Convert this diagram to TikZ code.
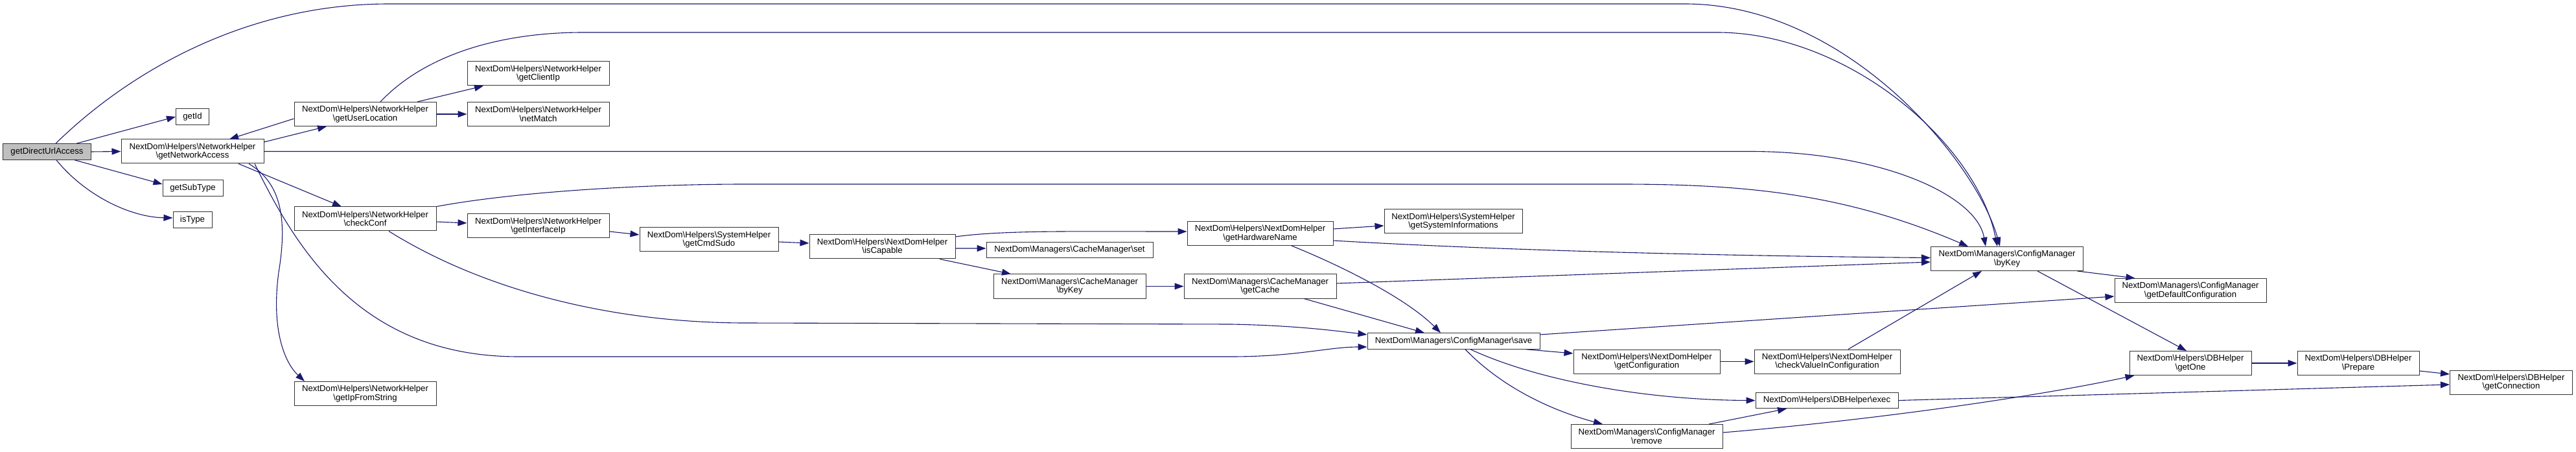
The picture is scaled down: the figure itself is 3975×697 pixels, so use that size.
\documentclass[tikz,border=0pt]{standalone}
\usepackage{fontspec}
\setmainfont{Liberation Sans}
\usetikzlibrary{arrows.meta}
\definecolor{edgeblue}{RGB}{25,25,112}
\definecolor{rootgray}{RGB}{191,191,191}
\newcommand{\sepbs}{\textbackslash}

\begin{document}
\begin{tikzpicture}[x=0.2mm,y=-0.2mm,>={Triangle[length=2.8mm,width=2mm]},
  font=\fontsize{7.5}{7.7}\selectfont,
  fn/.style={draw=black!80,line width=0.2mm,fill=white,align=center,inner sep=0pt,minimum height=7.4mm},
  fnone/.style={fn,minimum height=4.9mm},
  callto/.style={->,draw=edgeblue,line width=0.22mm}]
  \useasboundingbox (0,0) rectangle (3975,697);
  % nodes
  \node[fnone,fill=rootgray,minimum width=27mm] (gdua) at (72.5,234) {getDirectUrlAccess};
  \node[fnone,minimum width=10.2mm] (getid) at (297,180) {getId};
  \node[fn,minimum width=44mm] (na) at (297,233.5) {NextDom\sepbs Helpers\sepbs NetworkHelper\\\sepbs getNetworkAccess};
  \node[fnone,minimum width=18.6mm] (subtype) at (297.5,290) {getSubType};
  \node[fnone,minimum width=12mm] (istype) at (297,339) {isType};
  \node[fn,minimum width=43.8mm] (ul) at (563.5,176) {NextDom\sepbs Helpers\sepbs NetworkHelper\\\sepbs getUserLocation};
  \node[fn,minimum width=43.8mm] (clientip) at (830.5,113.5) {NextDom\sepbs Helpers\sepbs NetworkHelper\\\sepbs getClientIp};
  \node[fn,minimum width=43.8mm] (netmatch) at (830.5,176) {NextDom\sepbs Helpers\sepbs NetworkHelper\\\sepbs netMatch};
  \node[fn,minimum width=43.8mm] (checkconf) at (563.5,337.5) {NextDom\sepbs Helpers\sepbs NetworkHelper\\\sepbs checkConf};
  \node[fn,minimum width=43.8mm] (ifaceip) at (830.5,348.5) {NextDom\sepbs Helpers\sepbs NetworkHelper\\\sepbs getInterfaceIp};
  \node[fn,minimum width=43.8mm] (ipstr) at (563.5,607) {NextDom\sepbs Helpers\sepbs NetworkHelper\\\sepbs getIpFromString};
  \node[fn,minimum width=42.8mm] (cmdsudo) at (1094,369.5) {NextDom\sepbs Helpers\sepbs SystemHelper\\\sepbs getCmdSudo};
  \node[fn,minimum width=45mm] (iscap) at (1361.5,380.5) {NextDom\sepbs Helpers\sepbs NextDomHelper\\\sepbs isCapable};
  \node[fnone,minimum width=51.4mm] (cset) at (1650.5,385.5) {NextDom\sepbs Managers\sepbs CacheManager\sepbs set};
  \node[fn,minimum width=47mm] (cbykey) at (1650.5,441.5) {NextDom\sepbs Managers\sepbs CacheManager\\\sepbs byKey};
  \node[fn,minimum width=45mm] (hwname) at (1944.5,360) {NextDom\sepbs Helpers\sepbs NextDomHelper\\\sepbs getHardwareName};
  \node[fn,minimum width=47mm] (getcache) at (1944.5,441.5) {NextDom\sepbs Managers\sepbs CacheManager\\\sepbs getCache};
  \node[fn,minimum width=42.6mm] (sysinfo) at (2242.5,341.5) {NextDom\sepbs Helpers\sepbs SystemHelper\\\sepbs getSystemInformations};
  \node[fnone,minimum width=53.2mm] (save) at (2243,526) {NextDom\sepbs Managers\sepbs ConfigManager\sepbs save};
  \node[fn,minimum width=45.2mm] (getconf) at (2541,557.5) {NextDom\sepbs Helpers\sepbs NextDomHelper\\\sepbs getConfiguration};
  \node[fn,minimum width=46.8mm] (remove) at (2541,673) {NextDom\sepbs Managers\sepbs ConfigManager\\\sepbs remove};
  \node[fn,minimum width=45mm] (checkval) at (2819.5,557.5) {NextDom\sepbs Helpers\sepbs NextDomHelper\\\sepbs checkValueInConfiguration};
  \node[fnone,minimum width=44mm] (exec) at (2819,617.5) {NextDom\sepbs Helpers\sepbs DBHelper\sepbs exec};
  \node[fn,minimum width=47mm] (cfgbykey) at (3097,399) {NextDom\sepbs Managers\sepbs ConfigManager\\\sepbs byKey};
  \node[fn,minimum width=46.8mm] (defconf) at (3380,448) {NextDom\sepbs Managers\sepbs ConfigManager\\\sepbs getDefaultConfiguration};
  \node[fn,minimum width=37.6mm] (getone) at (3380,560) {NextDom\sepbs Helpers\sepbs DBHelper\\\sepbs getOne};
  \node[fn,minimum width=37.6mm] (prepare) at (3639,560) {NextDom\sepbs Helpers\sepbs DBHelper\\\sepbs Prepare};
  \node[fn,minimum width=37.8mm] (getconn) at (3875,589.5) {NextDom\sepbs Helpers\sepbs DBHelper\\\sepbs getConnection};
  % calls
  \draw[callto] ([xshift=9.1mm]gdua.north) -- (getid.west);
  \draw[callto] (gdua.east) -- (na.west);
  \draw[callto] ([xshift=8.5mm]gdua.south) -- ([yshift=1.2mm]subtype.west);
  \draw[callto] ([xshift=2.9mm]gdua.south) .. controls (130,300) and (200,335) .. ([yshift=0.6mm]istype.west);
  \draw[callto] ([xshift=2.7mm]gdua.north) .. controls (200,110) and (380,6) .. (600,6) -- (2600,6)
    .. controls (2850,6) and (3050,250) .. ([xshift=-2.2mm]cfgbykey.north);
  \draw[callto] ([yshift=2.9mm]na.east) -- ([xshift=-11.9mm]ul.south);
  \draw[callto] ([yshift=-1.4mm]ul.west) -- ([xshift=11.4mm]na.north);
  \draw[callto] ([xshift=14.2mm]na.south) -- ([xshift=-7.3mm]checkconf.north);
  \draw[callto] (na.east) -- (2700,233.5) .. controls (2900,233.5) and (3050,300) .. ([xshift=-6.6mm]cfgbykey.north);
  \draw[callto] ([xshift=17.4mm]na.south) .. controls (430,280) and (445,330) .. (430,420)
    .. controls (418,510) and (440,560) .. ([xshift=-18.7mm]ipstr.north);
  \draw[callto] ([xshift=19.2mm]na.south) .. controls (460,390) and (560,550) .. (800,550) -- (1900,550)
    .. controls (2000,550) and (2050,535) .. ([yshift=-1.8mm]save.west);
  \draw[callto] ([xshift=16.1mm]ul.north) -- ([xshift=-16.9mm]clientip.south);
  \draw[callto] (ul.east) -- (netmatch.west);
  \draw[callto] ([xshift=4.7mm]ul.north) .. controls (650,90) and (760,50) .. (900,50) -- (2650,50)
    .. controls (2850,50) and (3050,220) .. ([xshift=-3mm]cfgbykey.north);
  \draw[callto] ([yshift=-0.9mm]checkconf.east) -- ([yshift=0.9mm]ifaceip.west);
  \draw[callto] (checkconf.north east) .. controls (800,295) and (1000,284) .. (1150,284) -- (2500,284)
    .. controls (2700,284) and (2850,300) .. ([xshift=-12mm]cfgbykey.north);
  \draw[callto] ([xshift=7.3mm]checkconf.south) .. controls (750,450) and (950,498) .. (1150,498) -- (1900,500)
    .. controls (2000,502) and (2060,510) .. ([yshift=2mm]save.west);
  \draw[callto] ([yshift=-1.7mm]ifaceip.east) -- ([yshift=1.5mm]cmdsudo.west);
  \draw[callto] ([yshift=-0.7mm]cmdsudo.east) -- ([yshift=1.1mm]iscap.west);
  \draw[callto] ([yshift=3.1mm]iscap.east) .. controls (1550,355) and (1650,357) .. ([yshift=0.6mm]hwname.west);
  \draw[callto] ([yshift=-0.5mm]iscap.east) -- ([yshift=0.5mm]cset.west);
  \draw[callto] ([xshift=17.7mm]iscap.south) -- ([xshift=-18.1mm]cbykey.north);
  \draw[callto] (cbykey.east) -- (getcache.west);
  \draw[callto] ([yshift=1.4mm]hwname.east) -- ([yshift=-1.3mm]sysinfo.west);
  \draw[callto] ([yshift=-2.2mm]hwname.east) .. controls (2350,388) and (2700,395) .. ([yshift=0.3mm]cfgbykey.west);
  \draw[callto] ([yshift=0.9mm]getcache.east) -- ([yshift=-1mm]cfgbykey.west);
  \draw[callto] ([xshift=9.7mm]hwname.south) .. controls (2070,410) and (2170,460) .. ([xshift=-4mm]save.north);
  \draw[callto] ([xshift=13.5mm]getcache.south) -- ([xshift=-9mm]save.north);
  \draw[callto] ([yshift=2mm]save.east) -- ([yshift=-1.8mm]defconf.west);
  \draw[callto] ([xshift=22.4mm]save.south) -- ([yshift=2.5mm]getconf.west);
  \draw[callto] ([xshift=5.2mm]save.south) .. controls (2380,590) and (2550,617) .. (exec.west);
  \draw[callto] ([xshift=3.6mm]save.south) .. controls (2330,610) and (2420,640) .. ([xshift=-13.6mm]remove.north);
  \draw[callto] (getconf.east) -- (checkval.west);
  \draw[callto] ([xshift=6.5mm]checkval.north) -- ([xshift=-7.8mm]cfgbykey.south);
  \draw[callto] ([xshift=19.2mm]remove.north) -- ([xshift=-12.4mm]exec.south);
  \draw[callto] ([yshift=1.2mm]remove.east) .. controls (2900,647) and (3150,610) .. ([xshift=1.6mm]getone.south west);
  \draw[callto] (exec.east) -- ([yshift=-0.7mm]getconn.west);
  \draw[callto] ([yshift=-2.4mm]prepare.east) -- ([yshift=2.5mm]getconn.west);
  \draw[callto] ([xshift=-1.9mm]cfgbykey.south east) -- ([xshift=6.4mm]defconf.north west);
  \draw[callto] ([xshift=9.4mm]cfgbykey.south) -- ([xshift=-1.2mm]getone.north);
  \draw[callto] (getone.east) -- (prepare.west);
\end{tikzpicture}
\end{document}
